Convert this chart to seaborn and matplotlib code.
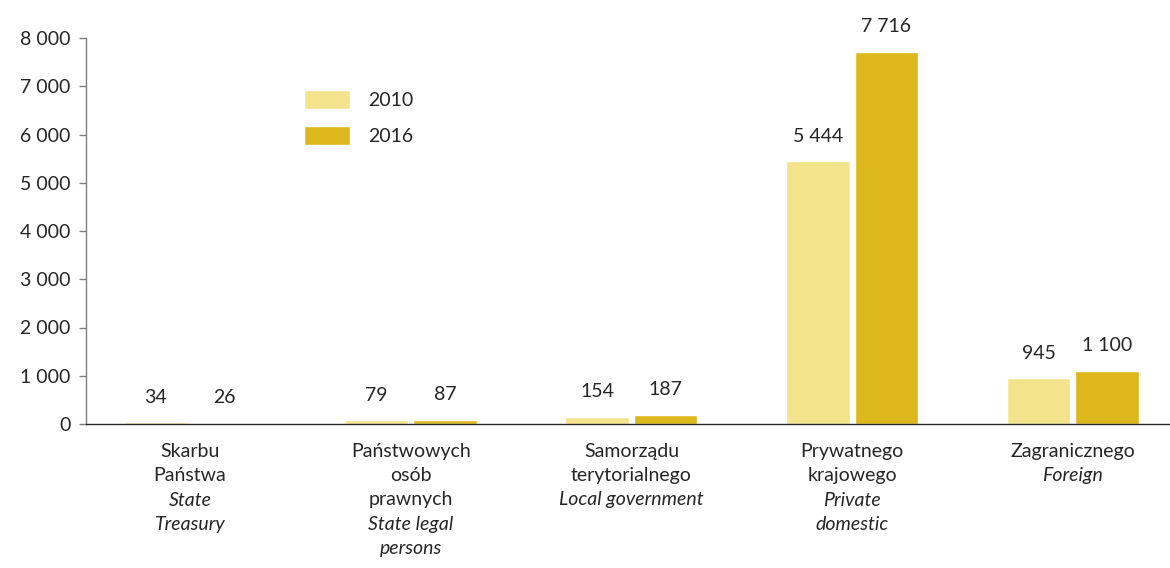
import matplotlib
matplotlib.use("Agg")
import matplotlib.pyplot as plt
import seaborn as sns
import pandas as pd

# Data
categories_pl = [["Skarbu", "Państwa"],
                 ["Państwowych", "osób", "prawnych"],
                 ["Samorządu", "terytorialnego"],
                 ["Prywatnego", "krajowego"],
                 ["Zagranicznego"]]
categories_en = [["State", "Treasury"],
                 ["State legal", "persons"],
                 ["Local government"],
                 ["Private", "domestic"],
                 ["Foreign"]]
cat_keys = ["c0", "c1", "c2", "c3", "c4"]
years = ["2010", "2016"]
values_2010 = [34, 79, 154, 5444, 945]
values_2016 = [26, 87, 187, 7716, 1100]
yticks = [0, 1000, 2000, 3000, 4000, 5000, 6000, 7000, 8000]

colors = {"2010": "#F3E38A", "2016": "#DDB81D"}

df = pd.DataFrame({
    "cat": cat_keys * 2,
    "year": [years[0]] * 5 + [years[1]] * 5,
    "value": values_2010 + values_2016,
})

sns.set_style("white")
plt.rcParams["font.family"] = ["Lato", "DejaVu Sans"]
FS = 14

fig = plt.figure(figsize=(11.7, 5.68), dpi=100)
ax = fig.add_axes([86 / 1170, 1 - 424 / 568, (1170 - 86) / 1170, (424 - 38) / 568])

sns.barplot(data=df, x="cat", y="value", hue="year", palette=colors,
            width=0.62, gap=0.07, ax=ax, saturation=1, legend=True)

def fmt(v):
    return f"{int(v):,}".replace(",", " ")

for cont in ax.containers:
    ax.bar_label(cont, labels=[fmt(b.get_height()) for b in cont],
                 padding=12, fontsize=FS)

ax.set_ylim(0, 8000)
ax.set_xlim(-0.471, 4.44)
ax.set_yticks(yticks)
ax.set_yticklabels([fmt(t) for t in yticks], fontsize=FS)
ax.set_xticks([])
ax.set_xlabel("")
ax.set_ylabel("")
ax.tick_params(axis="y", left=True, length=5, width=1, color="#7f7f7f", pad=6)

for s in ["top", "right"]:
    ax.spines[s].set_visible(False)
ax.spines["left"].set_color("#7f7f7f")
ax.spines["bottom"].set_color("#262626")
ax.spines["left"].set_linewidth(1)
ax.spines["bottom"].set_linewidth(1)

# category labels: Polish normal, English italic
for i, (pl, en) in enumerate(zip(categories_pl, categories_en)):
    lines = [(t, "normal") for t in pl] + [(t, "italic") for t in en]
    for k, (t, style) in enumerate(lines):
        ax.annotate(t, xy=(i, 0), xycoords=("data", "axes fraction"),
                    xytext=(0, -14 - k * 17.3), textcoords="offset points",
                    ha="center", va="top", fontsize=FS, style=style,
                    annotation_clip=False)

leg = ax.legend(loc="upper left", bbox_to_anchor=(0.201, 0.866), frameon=False,
                fontsize=FS, handlelength=2.37, handleheight=1.13,
                labelspacing=0.87, handletextpad=0.93, borderpad=0,
                borderaxespad=0, title=None)

fig.savefig("out.png", dpi=100)
